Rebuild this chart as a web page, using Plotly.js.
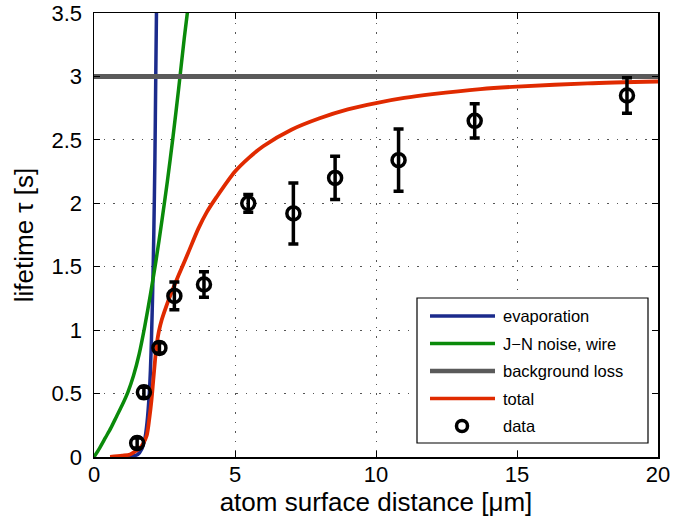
<!DOCTYPE html>
<html>
<head>
<meta charset="utf-8">
<script src="https://cdn.plot.ly/plotly-3.0.1.min.js"></script>
<style>
  html, body { margin: 0; padding: 0; background: #fff; }
  #chart { width: 674px; height: 528px; }
</style>
</head>
<body>
<div id="chart"></div>
<script>
// ---- data ----
const evapX = [0.57, 1.3, 1.55, 1.7, 1.8, 1.88, 1.96, 2.0, 2.04, 2.08, 2.12, 2.16, 2.19, 2.22];
const evapY = [0.0, 0.005, 0.02, 0.066, 0.14, 0.27, 0.5, 0.68, 0.95, 1.3, 1.75, 2.35, 3.0, 3.6];

const jnX = [0, 0.2, 0.4, 0.6, 0.8, 1.0, 1.2, 1.4, 1.6, 1.8, 2.0, 2.2, 2.4, 2.6, 2.8, 3.0, 3.2, 3.31, 3.36];
const jnY = [0, 0.07, 0.15, 0.23, 0.32, 0.41, 0.51, 0.64, 0.81, 1.03, 1.28, 1.55, 1.85, 2.17, 2.52, 2.9, 3.3, 3.5, 3.6];

const bgX = [0, 20];
const bgY = [3, 3];

const totX = [0.57, 1.0, 1.28, 1.5, 1.63, 1.75, 1.87, 1.96, 2.04, 2.1, 2.16, 2.22, 2.3, 2.4, 2.55, 2.7, 2.9, 3.11, 3.34, 3.7, 4.0, 4.35, 5.0, 5.5, 6.0, 7.0, 8.0, 9.0, 10.0, 11.0, 12.0, 13.7, 15.0, 17.5, 20.0];
const totY = [0.0, 0.01, 0.02, 0.05, 0.07, 0.11, 0.17, 0.3, 0.45, 0.6, 0.75, 0.88, 0.99, 1.08, 1.18, 1.27, 1.38, 1.49, 1.61, 1.8, 1.93, 2.05, 2.25, 2.36, 2.45, 2.58, 2.67, 2.74, 2.79, 2.83, 2.86, 2.9, 2.92, 2.945, 2.96];

const dataX = [1.53, 1.77, 2.32, 2.85, 3.9, 5.47, 7.07, 8.55, 10.8, 13.5, 18.9];
const dataY = [0.11, 0.51, 0.86, 1.27, 1.36, 2.0, 1.92, 2.2, 2.34, 2.65, 2.85];
const dataErr = [0.04, 0.04, 0.04, 0.11, 0.10, 0.07, 0.24, 0.17, 0.245, 0.135, 0.14];

const xTicks = [0, 5, 10, 15, 20];
const yTicks = [0, 0.5, 1, 1.5, 2, 2.5, 3, 3.5];
const yTickText = ['0', '0.5', '1', '1.5', '2', '2.5', '3', '3.5'];

const legendNames = ['evaporation', 'J\u2212N noise, wire', 'background loss', 'total', 'data'];
const colors = ['#1b2b8c', '#0a8a0a', '#5a5a5a', '#e02a00', '#000000'];

const FONT = 'Liberation Sans, Arial, sans-serif';

// ---- traces ----
const traces = [
  {x: evapX, y: evapY, mode: 'lines', line: {color: colors[0], width: 3.5, shape: 'spline', smoothing: 0.8}, name: legendNames[0]},
  {x: jnX, y: jnY, mode: 'lines', line: {color: colors[1], width: 3.5, shape: 'spline', smoothing: 0.8}, name: legendNames[1]},
  {x: bgX, y: bgY, mode: 'lines', line: {color: colors[2], width: 5}, name: legendNames[2]},
  {x: totX, y: totY, mode: 'lines', line: {color: colors[3], width: 3.8, shape: 'spline', smoothing: 0.8}, name: legendNames[3]},
  {x: dataX, y: dataY, mode: 'markers', name: legendNames[4],
   marker: {symbol: 'circle-open', size: 13, color: '#000', line: {color: '#000', width: 3.5}},
   error_y: {type: 'data', array: dataErr, visible: true, color: '#000', thickness: 3.5, width: 5}}
];

// ---- manual legend (paper coordinates) ----
const plotL = 94, plotR = 658, plotT = 13, plotB = 457;
const px2x = p => (p - plotL) / (plotR - plotL);
const py2y = p => (plotB - p) / (plotB - plotT);
const rowsPx = [316, 343.5, 371, 398.5, 426];

const shapes = [
  {type: 'rect', xref: 'paper', yref: 'paper', x0: px2x(417), x1: px2x(648), y0: py2y(443), y1: py2y(298),
   line: {color: '#000', width: 1.2}, fillcolor: '#fff', layer: 'above'}
];
const annotations = [];
for (let i = 0; i < 4; i++) {
  shapes.push({type: 'line', xref: 'paper', yref: 'paper', x0: px2x(430), x1: px2x(495),
    y0: py2y(rowsPx[i]), y1: py2y(rowsPx[i]), line: {color: colors[i], width: i === 2 ? 4.5 : 3.5}, layer: 'above'});
}
shapes.push({type: 'circle', xref: 'paper', yref: 'paper', xsizemode: 'pixel', ysizemode: 'pixel',
  xanchor: px2x(462), yanchor: py2y(rowsPx[4]), x0: -5.5, x1: 5.5, y0: -5.5, y1: 5.5,
  line: {color: '#000', width: 3.5}, layer: 'above'});
for (let i = 0; i < 5; i++) {
  annotations.push({xref: 'paper', yref: 'paper', x: px2x(501), y: py2y(rowsPx[i]), text: legendNames[i],
    showarrow: false, xanchor: 'left', yanchor: 'middle',
    font: {family: FONT, size: 16.5, color: '#000'}});
}

const axisCommon = {
  showline: true, linecolor: '#000', linewidth: 1.5, mirror: 'ticks',
  ticks: 'inside', ticklen: 6, tickwidth: 1, tickcolor: '#000',
  showgrid: true, gridcolor: '#555', gridwidth: 1, griddash: '1.5px,8px',
  zeroline: false, automargin: false, ticklabeloverflow: 'allow',
  tickfont: {family: FONT, size: 22, color: '#000'}
};

const layout = {
  width: 674, height: 528,
  margin: {l: plotL, r: 674 - plotR, t: plotT, b: 528 - plotB},
  paper_bgcolor: '#fff', plot_bgcolor: '#fff',
  showlegend: false,
  xaxis: Object.assign({}, axisCommon, {
    range: [0, 20], tickvals: xTicks, ticktext: xTicks.map(String), ticklabelstandoff: -3,
    title: {text: 'atom surface distance [\u03bcm]', standoff: 0,
            font: {family: FONT, size: 26, color: '#000'}}
  }),
  yaxis: Object.assign({}, axisCommon, {
    range: [0, 3.5], tickvals: yTicks, ticktext: yTickText, ticklabelstandoff: 6,
    title: {text: 'lifetime \u03c4 [s]', standoff: 10,
            font: {family: FONT, size: 26, color: '#000'}}
  }),
  shapes: shapes,
  annotations: annotations
};

Plotly.newPlot('chart', traces, layout, {displayModeBar: false, staticPlot: true});
</script>
</body>
</html>
